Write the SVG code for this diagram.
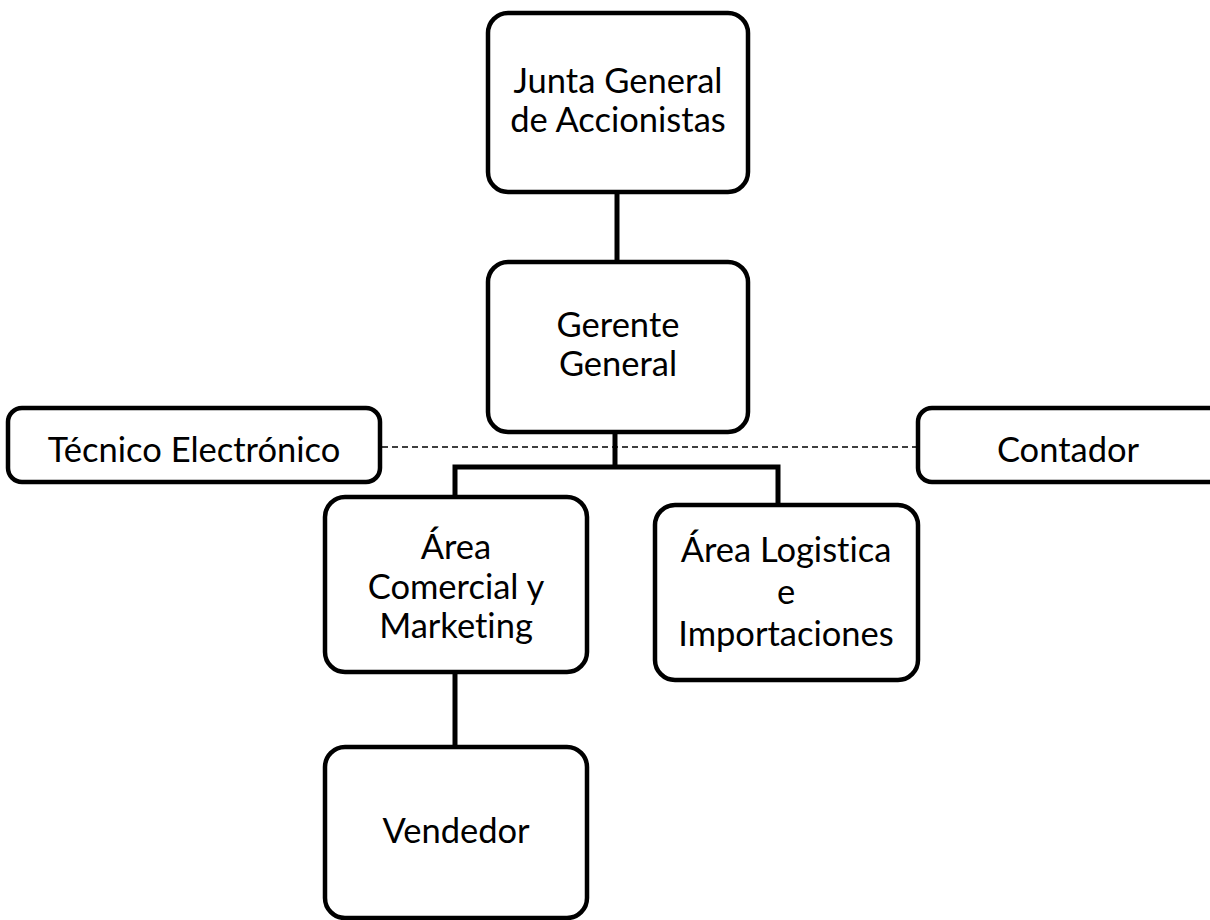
<svg xmlns="http://www.w3.org/2000/svg" width="1210" height="920" viewBox="0 0 1210 920">
<style>
.box{fill:#fff;stroke:#000;stroke-width:4.5}
.t{font-family:Lato,"Liberation Sans",sans-serif;font-size:34.5px;fill:#000;text-anchor:middle;font-variant-ligatures:none}
.c{fill:none;stroke:#000;stroke-width:5}
.d{fill:none;stroke:#000;stroke-width:1.5;stroke-dasharray:6 4}
</style>
<rect width="1210" height="920" fill="#fff"/>
<g id="connectors">
<line class="c" x1="617" y1="192" x2="617" y2="262"/>
<polyline class="c" points="615,432 615,467"/>
<polyline class="c" points="455,497 455,467 778,467 778,505"/>
<line class="c" x1="455" y1="672" x2="455" y2="747"/>
<line class="d" x1="382" y1="447" x2="918" y2="447"/>
</g>
<g id="junta">
<rect class="box" x="488" y="13" width="260" height="179" rx="20"/>
<text class="t" x="618" y="93">Junta General</text>
<text class="t" x="618" y="132">de Accionistas</text>
</g>
<g id="gerente">
<rect class="box" x="488" y="262" width="260" height="170" rx="20"/>
<text class="t" x="618" y="337">Gerente</text>
<text class="t" x="618" y="376">General</text>
</g>
<g id="tecnico">
<rect class="box" x="8" y="408" width="372" height="74" rx="14"/>
<text class="t" x="194" y="462">Técnico Electrónico</text>
</g>
<g id="contador">
<rect class="box" x="918" y="408" width="330" height="74" rx="14"/>
<text class="t" x="1068" y="462">Contador</text>
</g>
<g id="comercial">
<rect class="box" x="325" y="497" width="262" height="175" rx="20"/>
<text class="t" x="456" y="559">Área</text>
<text class="t" x="456" y="599">Comercial y</text>
<text class="t" x="456" y="638">Marketing</text>
</g>
<g id="logistica">
<rect class="box" x="655" y="505" width="263" height="175" rx="20"/>
<text class="t" x="786" y="562">Área Logistica</text>
<text class="t" x="786" y="604">e</text>
<text class="t" x="786" y="646">Importaciones</text>
</g>
<g id="vendedor">
<rect class="box" x="325" y="747" width="262" height="171" rx="20"/>
<text class="t" x="456" y="843">Vendedor</text>
</g>
</svg>
